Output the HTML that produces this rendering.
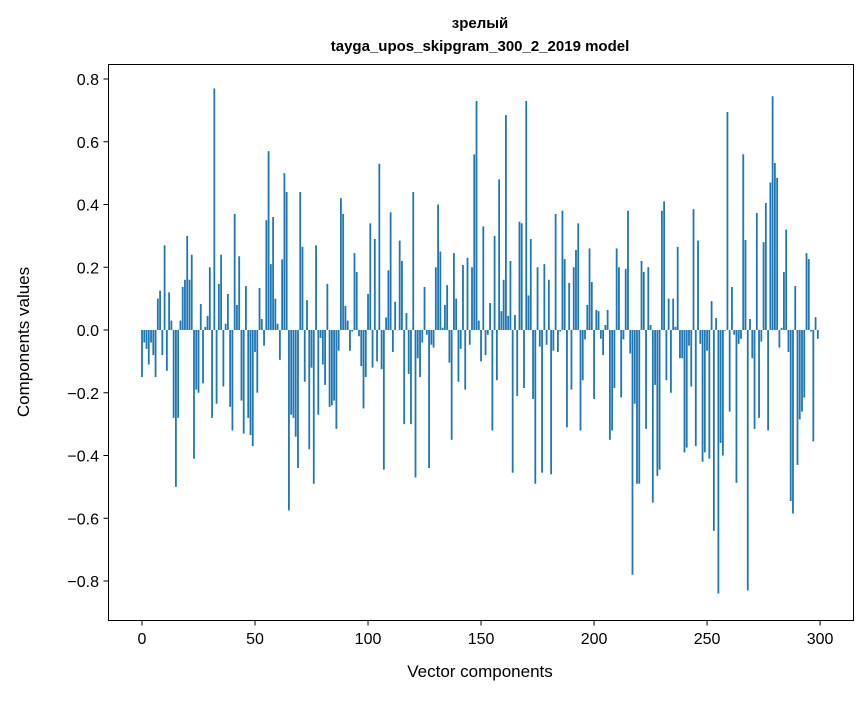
<!DOCTYPE html>
<html><head><meta charset="utf-8"><style>
body{margin:0;background:#fff;font-family:"Liberation Sans","DejaVu Sans",sans-serif;}
svg text{font-family:"Liberation Sans","DejaVu Sans",sans-serif;}
</style></head><body>
<svg id="chart" width="867" height="696" xmlns="http://www.w3.org/2000/svg">
<rect width="867" height="696" fill="#fff"/>
<text x="480" y="28" text-anchor="middle" font-size="15" font-weight="bold">зрелый</text>
<text x="480" y="51" text-anchor="middle" font-size="15" font-weight="bold">tayga_upos_skipgram_300_2_2019 model</text>
<g id="bars"></g>
<g id="axes"></g>
<rect x="108.5" y="64.5" width="745" height="556" fill="none" stroke="#000" stroke-width="1"/>
<text x="480" y="677" text-anchor="middle" font-size="17">Vector components</text>
<text transform="translate(29,342) rotate(-90)" text-anchor="middle" font-size="17">Components values</text>
</svg>
<script>
const values = [
-0.15,-0.04,-0.06,-0.11,-0.04,-0.08,-0.15,0.10,0.125,-0.08,0.27,-0.13,0.12,0.03,-0.28,-0.50,-0.28,0.03,0.137,0.16,0.30,0.16,0.24,-0.41,-0.19,-0.20,0.083,-0.17,0.01,0.045,0.20,-0.28,0.77,-0.235,0.147,0.24,-0.18,0.02,0.115,-0.245,-0.32,0.37,0.08,0.235,-0.225,-0.33,0.14,-0.28,-0.335,-0.37,
-0.07,-0.20,0.134,0.035,-0.05,0.35,0.57,0.21,0.36,0.10,0.02,-0.095,0.225,0.50,0.44,-0.575,-0.27,-0.28,-0.34,-0.44,0.44,0.265,-0.165,0.095,-0.38,-0.12,-0.49,0.27,-0.27,-0.025,-0.11,-0.175,0.147,-0.245,-0.24,-0.225,-0.315,-0.066,0.42,0.37,0.077,0.03,-0.066,-0.005,0.245,0.185,-0.02,-0.115,-0.25,-0.15,
0.115,0.34,-0.12,0.29,-0.10,0.53,-0.125,-0.445,0.04,0.19,0.375,-0.07,0.09,0.0,0.285,0.22,-0.30,0.054,-0.14,-0.30,0.44,-0.47,-0.09,-0.15,-0.04,0.137,-0.015,-0.44,-0.047,-0.056,0.20,0.40,0.25,0.007,0.08,0.143,-0.104,-0.35,0.245,0.10,-0.165,-0.06,0.207,-0.19,0.23,-0.047,0.20,0.56,0.73,
0.03,-0.10,0.33,-0.08,-0.015,0.086,-0.32,0.30,-0.16,0.48,0.06,0.16,0.685,0.045,0.22,-0.455,0.048,-0.21,0.345,0.34,-0.185,0.73,0.11,0.29,-0.22,-0.49,0.20,-0.053,-0.455,0.21,-0.047,0.16,-0.46,-0.066,0.37,-0.07,-0.005,0.38,0.226,-0.31,0.15,-0.19,0.20,0.255,0.34,-0.32,-0.16,-0.03,0.08,0.26,0.153,
-0.22,0.064,0.06,-0.028,-0.08,0.016,0.064,-0.35,-0.32,-0.185,0.26,0.20,-0.215,-0.03,0.195,0.38,-0.075,-0.78,-0.235,-0.49,-0.49,0.22,0.185,-0.315,0.20,0.016,-0.55,-0.175,-0.465,-0.445,0.38,0.41,-0.16,0.10,-0.20,0.10,0.01,0.265,-0.09,-0.09,-0.39,-0.375,-0.05,-0.18,0.385,-0.37,0.285,-0.044,-0.42,-0.39,
-0.066,-0.41,0.092,-0.64,0.038,-0.84,-0.36,-0.40,-0.002,0.695,-0.26,0.137,-0.015,-0.487,-0.044,-0.028,0.56,0.287,-0.83,0.035,-0.09,-0.315,0.373,-0.28,-0.037,0.28,0.405,-0.32,0.47,0.745,0.532,0.485,-0.056,0.007,0.185,0.32,-0.07,-0.545,-0.585,0.14,-0.43,-0.285,-0.26,-0.215,0.245,0.226,-0.005,-0.355,0.041,-0.028
];
const xTicks = [0,50,100,150,200,250,300];
const yTicks = [-0.8,-0.6,-0.4,-0.2,0.0,0.2,0.4,0.6,0.8];
const yTickLabels = ["\u22120.8","\u22120.6","\u22120.4","\u22120.2","0.0","0.2","0.4","0.6","0.8"];

const NS="http://www.w3.org/2000/svg";
function xScale(v){return 142+v*2.2603;}
function yScale(v){return 330-v*313.75;}
const bars=document.getElementById('bars');
values.forEach((v,i)=>{
  const r=document.createElementNS(NS,'rect');
  const y0=yScale(0), y1=yScale(v);
  r.setAttribute('x',xScale(i-0.4));
  r.setAttribute('width',0.8*2.2603);
  r.setAttribute('y',Math.min(y0,y1));
  r.setAttribute('height',Math.max(Math.abs(y1-y0),0.3));
  r.setAttribute('fill','#1f77b4');
  
  
  bars.appendChild(r);
});
const axes=document.getElementById('axes');
xTicks.forEach(t=>{
  const x=xScale(t);
  const l=document.createElementNS(NS,'line');
  l.setAttribute('x1',x);l.setAttribute('x2',x);l.setAttribute('y1',620.5);l.setAttribute('y2',625.5);
  l.setAttribute('stroke','#000');
  
  
  axes.appendChild(l);
  const tx=document.createElementNS(NS,'text');
  tx.setAttribute('x',x);tx.setAttribute('y',644);tx.setAttribute('text-anchor','middle');tx.setAttribute('font-size','16');
  tx.textContent=t;
  
  
  axes.appendChild(tx);
});
yTicks.forEach((t,k)=>{
  const y=yScale(t);
  const l=document.createElementNS(NS,'line');
  l.setAttribute('x1',103.5);l.setAttribute('x2',108.5);l.setAttribute('y1',y);l.setAttribute('y2',y);
  l.setAttribute('stroke','#000');
  
  
  axes.appendChild(l);
  const tx=document.createElementNS(NS,'text');
  tx.setAttribute('x',99);tx.setAttribute('y',y+6);tx.setAttribute('text-anchor','end');tx.setAttribute('font-size','16');
  tx.textContent=yTickLabels[k];
  
  
  axes.appendChild(tx);
});
</script>
</body></html>
